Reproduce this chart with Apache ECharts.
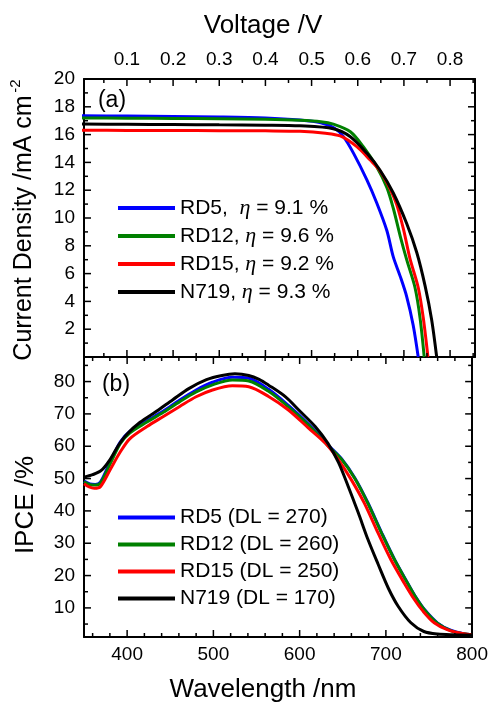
<!DOCTYPE html>
<html><head><meta charset="utf-8">
<script src="https://cdn.jsdelivr.net/npm/echarts@6/dist/echarts.min.js"></script>
<style>html,body{margin:0;padding:0;background:#fff}#c{width:491px;height:702px}</style>
</head><body><div id="c"></div>
<script>
const FONT = '"Liberation Sans", Arial, sans-serif';

// ---------- Panel (a): J–V curves  [voltage (V), current density (mA cm^-2)]
const jvNames = ['RD5,  η = 9.1 %', 'RD12, η = 9.6 %', 'RD15, η = 9.2 %', 'N719, η = 9.3 %'];
const jvRD5 = [[0,17.35],[0.1,17.33],[0.2,17.3],[0.3,17.27],[0.4,17.2],[0.475,17.05],[0.52,16.85],[0.55,16.45],[0.569,15.85],[0.591,14.65],[0.62,12.73],[0.641,11.1],[0.663,9.1],[0.677,7.2],[0.692,5.8],[0.706,4.35],[0.72,2.3],[0.731,0]];
const jvRD12 = [[0,17.2],[0.1,17.18],[0.2,17.16],[0.3,17.14],[0.4,17.1],[0.475,17.03],[0.52,16.93],[0.547,16.75],[0.584,16.2],[0.612,15.13],[0.641,13.69],[0.663,12.2],[0.677,10.7],[0.692,8.7],[0.706,7.0],[0.724,5.0],[0.735,2.8],[0.744,0]];
const jvRD15 = [[0,16.32],[0.1,16.3],[0.2,16.3],[0.3,16.28],[0.4,16.27],[0.475,16.24],[0.53,16.1],[0.562,15.9],[0.598,15.13],[0.627,14.17],[0.648,13.4],[0.67,12.1],[0.684,11.0],[0.699,9.2],[0.713,7.1],[0.731,5.0],[0.742,2.8],[0.752,0]];
const jvN719 = [[0,16.76],[0.1,16.74],[0.2,16.72],[0.3,16.7],[0.4,16.68],[0.475,16.63],[0.547,16.42],[0.584,15.85],[0.62,14.65],[0.648,13.45],[0.677,11.8],[0.706,9.6],[0.728,7.5],[0.746,5.1],[0.76,2.7],[0.771,0]];

// ---------- Panel (b): IPCE spectra [wavelength (nm), IPCE (%)]
const ipceNames = ['RD5 (DL = 270)', 'RD12 (DL = 260)', 'RD15 (DL = 250)', 'N719 (DL = 170)'];
const ipceRD5 = [[350,49.2],[357,48.3],[363,48.2],[369,48.9],[380,55.0],[392,61.3],[403,64.6],[423,67.9],[442,70.9],[461,74.3],[480,77.4],[499,79.8],[522,81.3],[541,81.0],[564,77.6],[587,72.6],[610,66.9],[633,60.4],[649,56.0],[664,50.2],[679,42.6],[695,33.3],[710,25.0],[725,17.8],[735,13.2],[745,9.4],[760,5.3],[775,3.1],[790,2.0],[800,1.7]];
const ipceRD12 = [[350,49.0],[357,48.1],[363,48.0],[369,48.6],[380,54.4],[392,60.8],[403,64.1],[423,67.5],[442,70.5],[461,73.8],[480,76.8],[499,79.0],[522,80.5],[541,80.2],[564,77.0],[587,72.2],[610,66.6],[633,60.1],[649,55.8],[664,50.0],[679,42.4],[695,33.1],[710,24.9],[725,17.7],[735,13.1],[745,9.3],[760,5.2],[775,3.0],[790,2.0],[800,1.7]];
const ipceRD15 = [[350,48.4],[356,47.4],[362,47.0],[369,47.5],[380,52.6],[392,58.2],[403,62.3],[423,66.1],[442,69.2],[461,72.3],[480,75.3],[499,77.4],[522,78.7],[541,78.4],[564,75.4],[587,71.2],[610,65.7],[630,60.9],[645,55.8],[660,49.6],[675,42.4],[691,33.1],[706,24.8],[721,17.8],[733,12.6],[743,9.0],[756,5.4],[771,3.3],[790,2.0],[800,1.7]];
const ipceN719 = [[350,50.4],[360,51.2],[370,52.5],[380,55.8],[390,60.3],[400,63.8],[415,67.4],[434,70.8],[453,74.4],[472,77.9],[492,80.6],[510,81.9],[525,82.4],[541,81.9],[553,80.7],[564,78.9],[584,75.2],[599,71.2],[618,66.1],[633,60.8],[645,55.0],[656,47.8],[668,39.4],[679,31.3],[691,23.5],[703,16.0],[714,10.6],[729,5.4],[744,2.7],[760,1.9],[780,1.7],[800,1.6]];

const colors = ['#0000ff', '#008000', '#ff0000', '#000000'];

// ---------- tick values
const voltageTicks = [0.1,0.2,0.3,0.4,0.5,0.6,0.7,0.8];
const voltageMinor = [0.05,0.15,0.25,0.35,0.45,0.55,0.65,0.75,0.85];
const jTicks = [2,4,6,8,10,12,14,16,18,20];
const jMinor = [1,3,5,7,9,11,13,15,17,19];
const wlTicks = [400,500,600,700,800];
const wlMinor = [360,380,420,440,460,480,520,540,560,580,620,640,660,680,720,740,760,780];
const ipceTicks = [10,20,30,40,50,60,70,80];
const ipceMinor = [5,15,25,35,45,55,65,75,85];

const V_MIN = 0.007, V_MAX = 0.854;
const J_MIN = 0, J_MAX = 20;
const W_MIN = 350, W_MAX = 800;
const P_MIN = 1, P_MAX = 87.6;

const MAJOR_LEN = 7, MINOR_LEN = 4;

function axis(grid, pos, min, max, labels, margin, fmt) {
  const a = {
    type: 'value', gridIndex: grid, position: pos, min: min, max: max,
    splitLine: {show: false},
    axisLine: {show: true, onZero: false, lineStyle: {color: '#000', width: 2}},
    axisTick: {show: false}, minorTick: {show: false},
    axisLabel: {show: false}
  };
  if (labels) {
    a.axisLabel = {show: true, customValues: labels.slice(), color: '#000', fontSize: 19,
                   fontFamily: FONT, margin: margin};
    if (fmt) a.axisLabel.formatter = fmt;
  }
  return a;
}

const xAxes = [
  axis(0, 'top', V_MIN, V_MAX, voltageTicks, 10, v => Number(v).toFixed(1)),
  axis(0, 'bottom', V_MIN, V_MAX),
  axis(1, 'top', W_MIN, W_MAX),
  axis(1, 'bottom', W_MIN, W_MAX, wlTicks, 8)
];
const yAxes = [
  axis(0, 'left', J_MIN, J_MAX, jTicks, 9),
  axis(0, 'right', J_MIN, J_MAX),
  axis(1, 'left', P_MIN, P_MAX, ipceTicks, 9),
  axis(1, 'right', P_MIN, P_MAX)
];

function lineSeries(name, data, color, xi, yi) {
  return {
    type: 'line', name: name, data: data, xAxisIndex: xi, yAxisIndex: yi,
    showSymbol: false, smooth: 0.3,
    color: color, lineStyle: {color: color, width: 3}
  };
}

// inward tick marks, placed through the axes' own scales (api.coord)
function tickData(major, minor) {
  return major.map(v => [v, MAJOR_LEN]).concat(minor.map(v => [v, MINOR_LEN]));
}
function tickSeries(xi, yi, data, side, edge) {
  return {
    type: 'custom', xAxisIndex: xi, yAxisIndex: yi, silent: true, clip: false, z: 5,
    data: data,
    renderItem: function (params, api) {
      const v = api.value(0), len = api.value(1);
      let p, x2, y2;
      if (side === 'bottom' || side === 'top') {
        p = api.coord([v, edge]); x2 = p[0]; y2 = p[1] + (side === 'bottom' ? -len : len);
      } else {
        p = api.coord([edge, v]); y2 = p[1]; x2 = p[0] + (side === 'left' ? len : -len);
      }
      return {type: 'line', shape: {x1: p[0], y1: p[1], x2: x2, y2: y2},
              style: {stroke: '#000', lineWidth: 1.5}};
    }
  };
}

const series = [];
[jvRD5, jvRD12, jvRD15, jvN719].forEach((d, i) => series.push(lineSeries(jvNames[i], d, colors[i], 0, 0)));
[ipceRD5, ipceRD12, ipceRD15, ipceN719].forEach((d, i) => series.push(lineSeries(ipceNames[i], d, colors[i], 3, 2)));
series.push(tickSeries(0, 0, tickData(voltageTicks, voltageMinor), 'bottom', J_MIN));
series.push(tickSeries(0, 0, tickData(voltageTicks, voltageMinor), 'top', J_MAX));
series.push(tickSeries(0, 0, tickData(jTicks, jMinor), 'left', V_MIN));
series.push(tickSeries(0, 0, tickData(jTicks, jMinor), 'right', V_MAX));
series.push(tickSeries(3, 2, tickData(wlTicks, wlMinor), 'bottom', P_MIN));
series.push(tickSeries(3, 2, tickData(wlTicks, wlMinor), 'top', P_MAX));
series.push(tickSeries(3, 2, tickData(ipceTicks, ipceMinor), 'left', W_MIN));
series.push(tickSeries(3, 2, tickData(ipceTicks, ipceMinor), 'right', W_MAX));

const legendText = {
  fontSize: 21, fontFamily: FONT, color: '#000',
  rich: {
    t: {fontSize: 21, fontFamily: FONT, color: '#000'},
    i: {fontSize: 22, fontFamily: '"Liberation Serif", serif', fontStyle: 'italic', color: '#000'}
  }
};
function legend(data, top, rich) {
  const l = {
    data: data.slice(), orient: 'vertical', left: 118, top: top, itemGap: 6,
    itemWidth: 57, itemHeight: 4, icon: 'rect', padding: 0,
    textStyle: legendText
  };
  if (rich) l.formatter = n => { const k = n.indexOf('η'); return '{t|' + n.slice(0, k) + '}{i|η}{t|' + n.slice(k + 1) + '}'; };
  return l;
}

function txt(x, y, s, size, rot) {
  const g = {type: 'text', x: x, y: y,
    style: {text: s, font: size + 'px ' + FONT, fill: '#000', align: 'center', verticalAlign: 'middle'}};
  if (rot) g.rotation = rot;
  return g;
}

const chart = echarts.init(document.getElementById('c'));
chart.setOption({
  animation: false,
  grid: [
    {left: 84, top: 79, width: 391, height: 278},
    {left: 84, top: 357, width: 391, height: 280}
  ],
  xAxis: xAxes,
  yAxis: yAxes,
  legend: [legend(jvNames, 197, true), legend(ipceNames, 507, false)],
  series: series,
  graphic: [
    txt(263, 26, 'Voltage /V', 26),
    txt(263, 690, 'Wavelength /nm', 26),
    txt(24, 228, 'Current Density /mA cm', 25, Math.PI / 2),
    txt(16, 86, '-2', 15, Math.PI / 2),
    txt(26, 505, 'IPCE /%', 26, Math.PI / 2),
    txt(112, 101, '(a)', 23),
    txt(116, 385, '(b)', 23)
  ]
});
</script></body></html>
